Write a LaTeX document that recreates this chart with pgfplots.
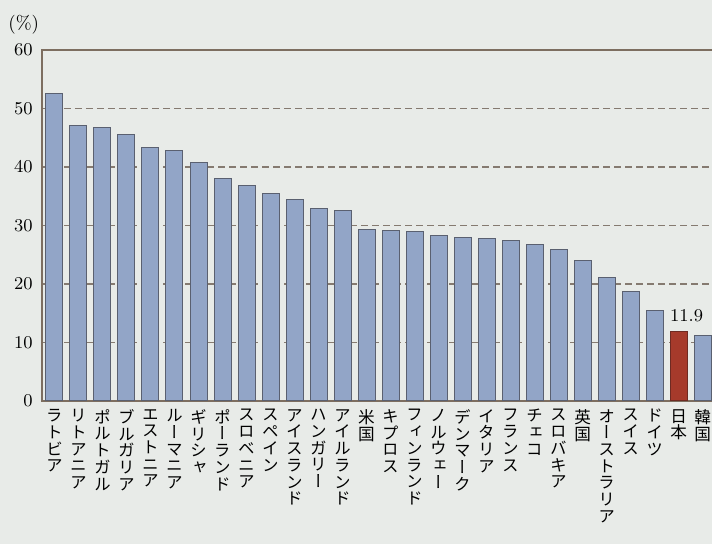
\documentclass[border=0pt]{standalone}
\usepackage{fontspec}
\usepackage{pgfplots}
\pgfplotsset{compat=1.18}
\newfontfamily\cjk[RawFeature=+vert]{Noto Sans CJK JP}
\definecolor{bg}{HTML}{E8EBE8}
\definecolor{barblue}{HTML}{92A5C7}
\definecolor{baredge}{HTML}{5A6070}
\definecolor{jpred}{HTML}{A63A2B}
\definecolor{jpedge}{HTML}{6E2A22}
\definecolor{gridc}{HTML}{857A70}
\definecolor{axc}{HTML}{7D6E60}
\begin{document}
\begin{tikzpicture}
\useasboundingbox (-21pt,-71.5pt) rectangle (335pt,200.5pt);
\fill[bg] (-21pt,-71.5pt) rectangle (335pt,200.5pt);
\node[anchor=west, font=\fontsize{9.5}{11}\selectfont, inner sep=0pt] at (-17pt,188pt) {(\%)};
\begin{axis}[
  at={(0,0)}, anchor=south west,
  scale only axis, width=337pt, height=175.5pt,
  xmin=-0.52, xmax=27.56, ymin=0, ymax=60,
  ytick={0,10,...,60},
  xtick={0,...,27},
  xticklabels={
    {ラ\\ト\\ビ\\ア},
    {リ\\ト\\ア\\ニ\\ア},
    {ポ\\ル\\ト\\ガ\\ル},
    {ブ\\ル\\ガ\\リ\\ア},
    {エ\\ス\\ト\\ニ\\ア},
    {ル\\ー\\マ\\ニ\\ア},
    {ギ\\リ\\シ\\ャ},
    {ポ\\ー\\ラ\\ン\\ド},
    {ス\\ロ\\ベ\\ニ\\ア},
    {ス\\ペ\\イ\\ン},
    {ア\\イ\\ス\\ラ\\ン\\ド},
    {ハ\\ン\\ガ\\リ\\ー},
    {ア\\イ\\ル\\ラ\\ン\\ド},
    {米\\国},
    {キ\\プ\\ロ\\ス},
    {フ\\ィ\\ン\\ラ\\ン\\ド},
    {ノ\\ル\\ウ\\ェ\\ー},
    {デ\\ン\\マ\\ー\\ク},
    {イ\\タ\\リ\\ア},
    {フ\\ラ\\ン\\ス},
    {チ\\ェ\\コ},
    {ス\\ロ\\バ\\キ\\ア},
    {英\\国},
    {オ\\ー\\ス\\ト\\ラ\\リ\\ア},
    {ス\\イ\\ス},
    {ド\\イ\\ツ},
    {日\\本},
    {韓\\国}},
  xticklabel style={anchor=north, align=center, inner sep=0pt, yshift=-4pt,
    font=\cjk\fontsize{8.3}{8.35}\selectfont},
  yticklabel style={font=\fontsize{9.5}{11}\selectfont, inner sep=0pt, xshift=-4.5pt},
  major tick length=0pt,
  ymajorgrids,
  grid style={draw=gridc, line width=0.6pt, dash pattern=on 3.5pt off 2pt},
  axis line style={draw=axc, line width=0.7pt},
  ybar, bar width=8.5pt,
]
\addplot[fill=barblue, draw=baredge, line width=0.5pt, bar shift=0pt] coordinates {
(0,52.6) (1,47.1) (2,46.7) (3,45.6) (4,43.4) (5,42.8) (6,40.8) (7,38.1)
(8,36.8) (9,35.4) (10,34.5) (11,32.9) (12,32.5) (13,29.4) (14,29.2) (15,28.9)
(16,28.3) (17,27.9) (18,27.7) (19,27.5) (20,26.7) (21,25.9) (22,24.0) (23,21.1)
(24,18.8) (25,15.4) (27,11.2)};
\addplot[fill=jpred, draw=jpedge, line width=0.5pt, bar shift=0pt,
  nodes near coords, nodes near coords style={font=\fontsize{9.5}{11}\selectfont, xshift=4pt, yshift=1.5pt, text=black}]
  coordinates {(26,11.9)};
\end{axis}
\end{tikzpicture}
\end{document}
